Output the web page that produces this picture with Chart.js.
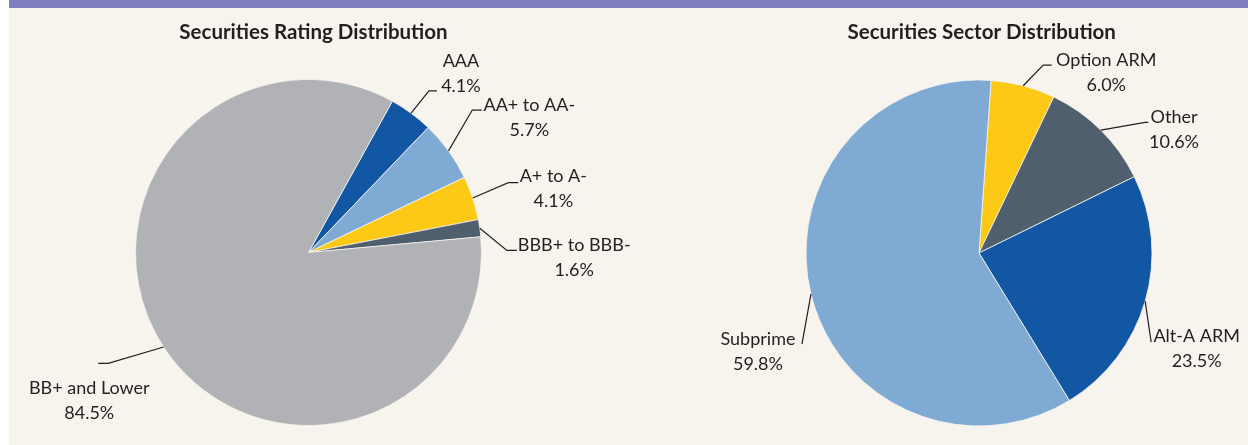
<!doctype html>
<html lang="en">
<head>
<meta charset="utf-8">
<title>Securities Distribution</title>
<style>
  html, body { margin: 0; padding: 0; background: #fff; }
  .panel {
    position: absolute; left: 9px; top: 0; width: 1239px; height: 445px;
    background: #f7f4ee; border-top: 8px solid #8080c0; box-sizing: border-box;
  }
  .chart-box { position: absolute; top: 0; height: 445px; }
</style>
</head>
<body>
<div class="panel"></div>
<div class="chart-box" style="left:0;width:700px"><canvas id="rating" width="700" height="445"></canvas></div>
<div class="chart-box" style="left:700px;width:548px"><canvas id="sector" width="548" height="445"></canvas></div>

<script src="https://cdn.jsdelivr.net/npm/chart.js@4.4.1/dist/chart.umd.min.js"></script>
<script>
const ratingLabels = ["AAA", "AA+ to AA-", "A+ to A-", "BBB+ to BBB-", "BB+ and Lower"];
const ratingValues = [4.1, 5.7, 4.1, 1.6, 84.5];
const ratingColors = ["#1157a4", "#7eaad4", "#fcc916", "#4f5f6e", "#b1b2b5"];

const sectorLabels = ["Option ARM", "Other", "Alt-A ARM", "Subprime"];
const sectorValues = [6.0, 10.6, 23.5, 59.8];
const sectorColors = ["#fcc916", "#4f5f6e", "#1157a4", "#7eaad4"];

const textColor = "#231f20";

// leader line: [elbow dx, elbow dy, tick length, text dx, text dy]
const pieLabels = {
  id: "pieLabels",
  afterDatasetsDraw(chart, args, opts) {
    const ctx = chart.ctx;
    const meta = chart.getDatasetMeta(0);
    const cats = chart.data.labels;
    const vals = chart.data.datasets[0].data;
    ctx.save();
    ctx.strokeStyle = textColor;
    ctx.fillStyle = textColor;
    ctx.lineWidth = 1.2;
    ctx.textAlign = "center";
    ctx.textBaseline = "middle";
    ctx.font = "18px Lato";
    let cx = 0;
    meta.data.forEach((arc, i) => {
      const p = opts.leaders[i];
      const mid = (arc.startAngle + arc.endAngle) / 2;
      const ax = arc.x + Math.cos(mid) * arc.outerRadius;
      const ay = arc.y + Math.sin(mid) * arc.outerRadius;
      const ex = ax + p[0], ey = ay + p[1];
      ctx.beginPath();
      ctx.moveTo(ax, ay);
      ctx.lineTo(ex, ey);
      ctx.lineTo(ex + p[2], ey);
      ctx.stroke();
      const tx = ex + p[3], ty = ey + p[4];
      ctx.fillText(cats[i], tx, ty);
      ctx.fillText(vals[i].toFixed(1) + "%", tx, ty + 25);
      cx = arc.x;
    });
    ctx.font = "bold 20.5px Lato";
    ctx.fillText(opts.title, cx + opts.titleDx, 32);
    ctx.restore();
  }
};

function makePie(id, labels, values, colors, rotation, padding, plugOpts) {
  return new Chart(document.getElementById(id), {
    type: "pie",
    data: {
      labels: labels,
      datasets: [{
        data: values,
        backgroundColor: colors,
        borderColor: "#f7f4ee",
        borderWidth: 0.8
      }]
    },
    options: {
      responsive: false,
      animation: false,
      rotation: rotation,
      radius: 173,
      layout: { padding: padding },
      plugins: {
        legend: { display: false },
        tooltip: { enabled: false },
        pieLabels: plugOpts
      }
    },
    plugins: [pieLabels]
  });
}

makePie("rating", ratingLabels, ratingValues, ratingColors, 29,
  { left: 100, right: 183, top: 80, bottom: 20 },
  {
    title: "Securities Rating Distribution",
    titleDx: 5,
    leaders: [
      [17.8, -22.3, 8, 32, -29.5],
      [23.8, -40.8, 9.5, 57, -5],
      [35.6, -15.4, 10, 45, -6],
      [27.1, 22.2, 10, 67.3, -5],
      [-55.3, 16.3, -10, -19, 25]
    ]
  });

makePie("sector", sectorLabels, sectorValues, sectorColors, 4,
  { left: 100, right: 90, top: 80, bottom: 19 },
  {
    title: "Securities Sector Distribution",
    titleDx: 2.7,
    leaders: [
      [20, -20.7, 8.5, 63, -5],
      [44.3, -7.7, 3.3, 29, -5],
      [6, 41, 0, 45.5, -6],
      [-9, 50, 0, -44, -5]
    ]
  });
</script>
</body>
</html>
